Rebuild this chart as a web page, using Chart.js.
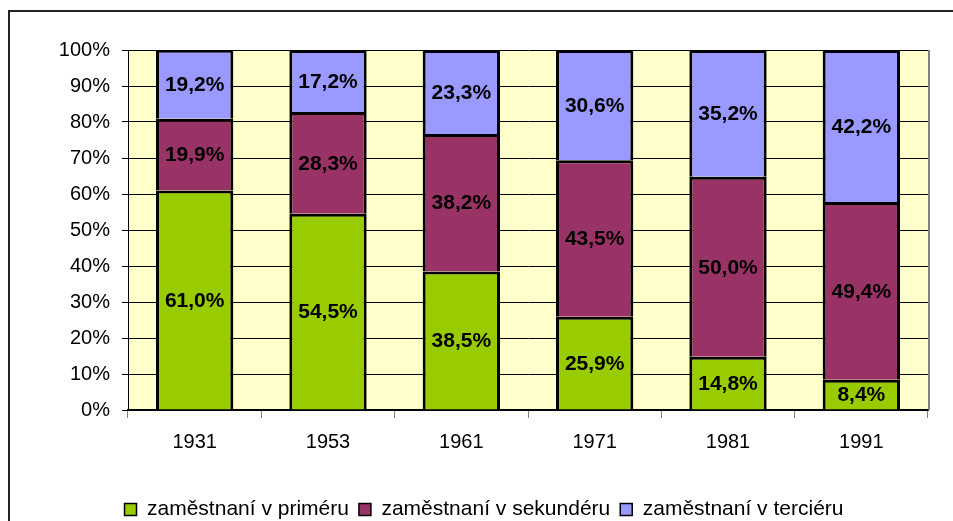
<!DOCTYPE html>
<html>
<head>
<meta charset="utf-8">
<script src="https://cdn.jsdelivr.net/npm/chart.js@4.4.1/dist/chart.umd.min.js"></script>
<style>
  html, body { margin: 0; padding: 0; background: #fff; }
  #wrap { width: 953px; height: 521px; }
</style>
</head>
<body>
<div id="wrap"><canvas id="graph" width="953" height="521"></canvas></div>
<script>
const years = ['1931', '1953', '1961', '1971', '1981', '1991'];
const primary = [61.0, 54.5, 38.5, 25.9, 14.8, 8.4];
const secondary = [19.9, 28.3, 38.2, 43.5, 50.0, 49.4];
const tertiary = [19.2, 17.2, 23.3, 30.6, 35.2, 42.2];
const seriesNames = ['zaměstnaní v priméru', 'zaměstnaní v sekundéru', 'zaměstnaní v terciéru'];
const colors = ['#99CC00', '#993366', '#9999FF'];

const fontFamily = '"Liberation Sans", Arial, sans-serif';

// plot background, outer frame and value labels
const frame = {
  id: 'frame',
  beforeDraw(chart) {
    const ctx = chart.ctx;
    const a = chart.chartArea;
    ctx.save();
    ctx.fillStyle = '#FFFFCC';
    ctx.fillRect(a.left, a.top, a.right - a.left, a.bottom - a.top);
    ctx.strokeStyle = '#222';
    ctx.lineWidth = 2;
    ctx.beginPath();
    ctx.moveTo(9, 530);
    ctx.lineTo(9, 11);
    ctx.lineTo(960, 11);
    ctx.stroke();
    ctx.restore();
  },
  afterDatasetsDraw(chart) {
    const ctx = chart.ctx;
    const a = chart.chartArea;
    ctx.save();
    ctx.strokeStyle = '#808080';
    ctx.lineWidth = 2;
    ctx.beginPath();
    ctx.moveTo(a.right + 1, a.top);
    ctx.lineTo(a.right + 1, a.bottom);
    ctx.stroke();
    ctx.fillStyle = '#000';
    ctx.font = 'bold 21px ' + fontFamily;
    ctx.textAlign = 'center';
    ctx.textBaseline = 'middle';
    chart.data.datasets.forEach((ds, i) => {
      chart.getDatasetMeta(i).data.forEach((bar, j) => {
        const y = (bar.y + bar.base) / 2 + 1;
        ctx.fillText(ds.data[j].toFixed(1).replace('.', ',') + '%', bar.x, y);
      });
    });
    ctx.restore();
  }
};

const datasets = [primary, secondary, tertiary].map((d, i) => ({
  label: seriesNames[i],
  data: d,
  backgroundColor: colors[i],
  borderColor: '#000',
  borderWidth: 3,
  borderSkipped: 'start',
  inflateAmount: 0,
  categoryPercentage: 1,
  barPercentage: 0.58
}));

new Chart(document.getElementById('graph'), {
  type: 'bar',
  data: { labels: years, datasets: datasets },
  plugins: [frame],
  options: {
    responsive: false,
    animation: false,
    layout: { padding: { left: 40, top: 50, right: 25, bottom: -9 } },
    plugins: {
      tooltip: { enabled: false },
      legend: {
        position: 'bottom',
        labels: {
          color: '#000',
          font: { family: fontFamily, size: 21 },
          boxWidth: 12,
          boxHeight: 12,
          padding: 10,
          generateLabels(chart) {
            return chart.data.datasets.map((ds, i) => ({
              text: ds.label,
              fillStyle: ds.backgroundColor,
              strokeStyle: '#000',
              lineWidth: 1.5,
              fontColor: '#000',
              datasetIndex: i
            }));
          }
        }
      }
    },
    scales: {
      x: {
        stacked: true,
        grid: {
          offset: true,
          drawOnChartArea: false,
          tickLength: 8,
          color: '#808080'
        },
        border: { color: '#000', width: 2 },
        ticks: {
          color: '#000',
          padding: 12,
          font: { family: fontFamily, size: 20 }
        },
        afterFit(scale) { scale.height = 79; }
      },
      y: {
        stacked: true,
        min: 0,
        max: 100,
        ticks: {
          stepSize: 10,
          color: '#000',
          padding: 12,
          font: { family: fontFamily, size: 20 },
          callback: v => v + '%'
        },
        grid: { color: '#000', tickLength: 6 },
        border: { color: '#000', width: 1 },
        afterFit(scale) { scale.width = 88; }
      }
    }
  }
});
</script>
</body>
</html>
